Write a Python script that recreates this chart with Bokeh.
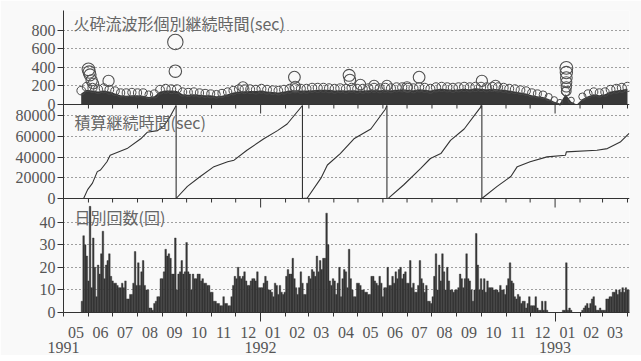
import math
import pandas as pd
from bokeh.plotting import figure
from bokeh.models import (Range1d, FixedTicker, DatetimeAxis, CustomJSTickFormatter,
                          Label, Span)
from bokeh.embed import file_html
from bokeh.resources import INLINE

# ---------------- data ----------------
axis_start = "1991-05-01"
axis_days = 703.5

# daily counts of pyroclastic flows (read in 2-day bins)
bin_days = 2
counts_a_start = "1991-05-23"
counts_a = [5, 34, 30, 25, 14, 47, 11, 33, 20, 7, 21, 17, 26, 36, 15, 21, 23, 26, 16, 14,
            13, 13, 12, 11, 11, 13, 11, 14, 6, 6, 8, 8, 13, 27, 12,
            22, 12, 18, 23, 12, 10, 10, 2, 2, 1, 4, 5, 7, 7, 15,
            15, 18, 28, 25, 26, 24, 17, 17, 33, 10, 17, 18, 23, 17, 18,
            31, 18, 17, 10, 17, 15, 15, 17, 17, 14, 15, 13, 13, 12, 12,
            9, 9, 5, 5, 4, 4, 3, 3, 7, 4, 4, 3, 3, 7, 12,
            16, 15, 20, 16, 15, 16, 18, 14, 12, 12, 14, 15, 15]
counts_b_start = "1991-12-25"
counts_b = [14, 18, 11, 11, 11, 13, 16, 14, 10, 10,
            9, 7, 13, 12, 8, 12, 9, 8, 9, 16,
            19, 17, 17, 24, 15, 11, 8, 11, 18, 13,
            8, 8, 13, 16, 15, 19, 18, 16, 25, 18,
            23, 19, 24, 24, 44, 30, 14, 12, 15, 14,
            8, 13, 20, 7, 15, 19, 18, 11, 28, 15,
            10, 7, 7, 13, 13, 12, 10, 10, 9, 9,
            8, 8, 16, 16, 14, 13, 12, 16, 13, 7,
            11, 11, 20, 12, 12, 16, 13, 18, 15, 19,
            20, 15, 17, 18, 13, 13, 23, 11, 13, 9,
            9, 12, 23, 15, 13, 9, 12, 5, 5, 4,
            7, 16, 26, 10, 21]
counts_c_start = "1992-08-11"
counts_c = [14, 26, 18, 10, 20, 14, 10, 10, 9, 10,
            10, 11, 17, 15, 11, 15, 26, 15, 14, 10,
            5, 10, 35, 21, 10, 15, 10, 15, 9, 14,
            11, 11, 11, 10, 10, 10, 9, 12, 10, 10,
            8, 12, 15, 22, 14, 13, 7, 6, 8, 7,
            4, 5, 5, 2, 4, 7, 3, 3, 3, 7,
            2, 1, 1, 5, 1, 5, 1, 0, 0, 0,
            0, 0, 0, 0, 0, 0, 1, 1, 22, 1,
            2, 1, 0, 0, 0, 0, 0, 0, 1, 2,
            3, 4, 2, 4, 6, 7, 3, 1, 1, 2,
            1, 1, 1, 6, 6, 7, 7, 9, 9, 10,
            8, 10, 9, 11, 9, 11, 10, 10]

# cumulative duration (sec), unwrapped; the panel wraps every 90000 sec
wrap_secs = 90000
cum_dates = ["1991-05-26", "1991-05-31", "1991-06-06", "1991-06-12", "1991-06-16", "1991-06-24",
             "1991-06-28", "1991-07-19", "1991-08-05", "1991-08-13", "1991-08-26", "1991-09-03",
             "1991-09-11", "1991-09-18", "1991-10-02", "1991-10-18", "1991-11-04", "1991-11-21",
             "1991-11-29", "1991-12-15", "1992-01-05", "1992-01-22", "1992-02-03", "1992-02-22",
             "1992-02-28", "1992-03-16", "1992-03-24", "1992-04-09", "1992-04-26", "1992-05-17",
             "1992-06-04", "1992-06-06", "1992-06-08", "1992-06-27", "1992-07-18", "1992-07-30",
             "1992-08-12", "1992-08-24", "1992-09-10", "1992-09-30", "1992-10-02", "1992-10-21",
             "1992-11-07", "1992-11-15", "1992-12-01", "1992-12-22", "1993-01-14", "1993-01-15",
             "1993-02-22", "1993-03-07", "1993-03-23", "1993-04-03"]
cum_secs = [0, 8600, 14900, 26000, 27600, 35600,
            41900, 48300, 57800, 64100, 65700, 70500,
            80000, 90000, 101700, 111300, 120800, 125600,
            127100, 136700, 147800, 155700, 162100, 180000,
            180500, 199700, 212400, 223500, 237800, 247300,
            266400, 270000, 270300, 283300, 299200, 308700,
            313500, 326200, 337300, 357900, 360000, 371700,
            381300, 390800, 395600, 400300, 401900, 405100,
            406700, 408300, 414600, 423000]

# individual durations: dense cloud (weekly read-off of its solid top and of the
# outer ring of circles) plus the individually visible long events
cloud_start = "1991-05-23"
cloud_step_days = 7
cloud_top = [120, 160, 150, 140, 150, 140, 120, 100, 95, 100,
             100, 95, 80, 90, 140, 150, 150, 145, 110, 105,
             110, 105, 100, 100, 90, 95, 110, 130, 140, 140,
             145, 145, 150, 140, 135, 130, 140, 150, 155, 150,
             150, 155, 160, 160, 160, 150, 155, 150, 155, 150,
             150, 155, 160, 155, 160, 155, 160, 165, 160, 155,
             165, 160, 150, 165, 170, 165, 160, 165, 170, 165,
             175, 170, 165, 170, 165, 160, 150, 140, 130, 120,
             100, 90, 80, 60, 30, 10, 110, 30, 0, 60,
             90, 110, 100, 110, 140, 150, 160, 170]
cloud_edge = [150, 190, 180, 165, 175, 160, 145, 125, 125, 130,
              125, 125, 105, 115, 160, 170, 165, 165, 135, 130,
              135, 125, 120, 115, 110, 120, 135, 150, 165, 165,
              165, 160, 170, 160, 155, 150, 160, 170, 175, 170,
              170, 180, 180, 180, 175, 170, 175, 170, 180, 170,
              170, 175, 180, 175, 180, 175, 185, 185, 180, 175,
              185, 180, 170, 185, 190, 185, 180, 185, 190, 185,
              190, 190, 185, 190, 185, 180, 170, 165, 155, 145,
              125, 115, 105, 80, 50, 25, 140, 45, 0, 85,
              115, 135, 125, 135, 160, 170, 180, 190]
big_dates = ["1991-06-01", "1991-06-02", "1991-06-03", "1991-06-05", "1991-06-07", "1991-06-26",
             "1991-09-17", "1991-09-17", "1991-12-10", "1992-02-12", "1992-02-13", "1992-04-20",
             "1992-04-21", "1992-05-04", "1992-05-21", "1992-06-06", "1992-07-01", "1992-07-16",
             "1992-10-02", "1992-10-19", "1993-01-15", "1993-01-15", "1993-01-15", "1993-01-15",
             "1993-01-15", "1993-01-15"]
big_secs = [380, 350, 320, 260, 225, 255,
            675, 360, 190, 295, 195, 315,
            265, 215, 205, 205, 190, 295,
            255, 205, 395, 345, 290, 240,
            190, 145]

top_ticks = [0, 200, 400, 600, 800]
mid_ticks_v = [0, 20000, 40000, 60000, 80000]
bot_ticks = [0, 10, 20, 30, 40]
month_tick_labels = ["05", "06", "07", "08", "09", "10", "11", "12", "01", "02", "03", "04",
                     "05", "06", "07", "08", "09", "10", "11", "12", "01", "02", "03"]
year_tick_dates = ["1991-05-01", "1992-01-01", "1993-01-01"]
year_tick_labels = ["1991", "1992", "1993"]

# ---------------- helpers / layout ----------------
DAY = 86400000.0


def ms(d):
    return pd.Timestamp(d).value / 1e6


def dia(v):
    return 3.5 + 0.42 * math.sqrt(max(v, 0))


FONT = "Liberation Sans Narrow"
TXT = "#555555"
INK = "#333333"
BG = "#f9f9f9"
CJK = "Noto Sans CJK JP"

FRAME_H = 302
# (pixel offset of panel's zero from frame bottom, panel height px, value at panel top)
PANELS = {"bot": (0, 112, 49.6), "mid": (114, 93, wrap_secs), "top": (208, 94, 1015)}


def px(name, v):
    off, h, vmax = PANELS[name]
    return off + v * h / vmax


X0 = ms(axis_start)
p = figure(frame_width=566, frame_height=FRAME_H, min_border_left=63, min_border_right=12,
           min_border_top=10, min_border_bottom=0,
           x_range=Range1d(X0, X0 + axis_days * DAY), y_range=Range1d(0, FRAME_H),
           x_axis_type="datetime", output_backend="svg", toolbar_location=None,
           background_fill_color=BG, border_fill_color=BG)
p.outline_line_color = None
p.xgrid.visible = False

for name, (off, h, vmax) in PANELS.items():
    upp = vmax / h
    p.extra_y_ranges[name] = Range1d(-off * upp, (FRAME_H - off) * upp)

# left axis: one axis line, three sets of ticks
tick_pos, tick_lab = [], []
for name, ticks in (("bot", bot_ticks), ("mid", mid_ticks_v), ("top", top_ticks)):
    for t in ticks:
        tick_pos.append(px(name, t))
        tick_lab.append(str(t))
fmt_code = "const i = tv.indexOf(tick); return i >= 0 ? lab[i] : '';"
ax = p.yaxis[0]
ax.ticker = FixedTicker(ticks=tick_pos)
ax.formatter = CustomJSTickFormatter(args=dict(tv=tick_pos, lab=tick_lab), code=fmt_code)
ax.major_tick_out = 6
ax.major_tick_in = 0
ax.minor_tick_line_color = None
ax.axis_line_color = INK
ax.major_tick_line_color = INK
ax.major_label_text_font = FONT
ax.major_label_text_font_size = "16px"
ax.major_label_text_color = TXT
ax.major_label_standoff = 2
g = p.ygrid[0]
g.ticker = FixedTicker(ticks=[tp for tp, lb in zip(tick_pos, tick_lab) if lb != "0"])
g.grid_line_dash = "1 3"
g.grid_line_color = "#444444"
g.grid_line_width = 1

# ---------------- top: individual durations ----------------
cx = [ms(cloud_start) + i * cloud_step_days * DAY for i in range(len(cloud_top))]
p.varea(x=cx, y1=[0] * len(cx), y2=cloud_top, fill_color="#383838", y_range_name="top")
ex = [x for x, v in zip(cx, cloud_edge) if v > 0]
ev = [v for v in cloud_edge if v > 0]
p.scatter(x=ex, y=ev, size=[dia(v) for v in ev], marker="circle", fill_alpha=0,
          line_color="#4a4a4a", line_width=1, y_range_name="top")
p.scatter(x=[ms(d) for d in big_dates], y=big_secs, size=[dia(v) + 1 for v in big_secs],
          marker="circle", fill_alpha=0, line_color="#505050", line_width=1.1,
          y_range_name="top")
p.add_layout(Label(x=X0, y=1015, x_offset=10, text="火砕流波形個別継続時間(sec)",
                   text_baseline="top", text_font=CJK, text_font_size="16px",
                   text_color="#666666", y_range_name="top"))

# ---------------- middle: cumulative duration ----------------
ct = [ms(d) for d in cum_dates]
W = wrap_secs
segs_x, segs_y = [[ct[0]]], [[cum_secs[0] % W]]
resets = []
for i in range(1, len(ct)):
    t0, t1 = ct[i - 1], ct[i]
    c0, c1 = cum_secs[i - 1], cum_secs[i]
    for k in range(int(c0 // W) + 1, int(c1 // W) + 1):
        b = k * W
        tb = t0 + (t1 - t0) * (b - c0) / (c1 - c0)
        segs_x[-1].append(tb)
        segs_y[-1].append(W)
        resets.append(tb)
        segs_x.append([tb])
        segs_y.append([0])
    segs_x[-1].append(t1)
    segs_y[-1].append(c1 - (c1 // W) * W)
p.multi_line(xs=segs_x, ys=segs_y, line_color=INK, line_width=1.1, y_range_name="mid")
p.segment(x0=resets, y0=[0] * len(resets), x1=resets, y1=[W] * len(resets),
          line_color=INK, line_width=1.1, y_range_name="mid")
p.add_layout(Label(x=X0, y=85200, x_offset=11, text="積算継続時間(sec)",
                   text_baseline="top", text_font=CJK, text_font_size="16px",
                   text_color="#666666", y_range_name="mid"))

# ---------------- bottom: daily counts ----------------
bx, bv = [], []
for start, vals in ((counts_a_start, counts_a), (counts_b_start, counts_b),
                    (counts_c_start, counts_c)):
    s = ms(start)
    for i, v in enumerate(vals):
        bx.append(s + (i * bin_days + bin_days / 2) * DAY)
        bv.append(v)
p.vbar(x=bx, top=bv, width=bin_days * DAY, fill_color="#363636",
       line_color="#363636", line_width=0.4, y_range_name="bot")
p.add_layout(Label(x=X0, y=47.4, x_offset=11, text="日別回数(回)",
                   text_baseline="top", text_font=CJK, text_font_size="16px",
                   text_color="#666666", y_range_name="bot"))

# zero lines of the two upper panels, with their month ticks
month_starts = list(pd.date_range("1991-05-01", "1993-04-01", freq="MS"))
ms_starts = [ms(d) for d in month_starts]
year_ticks = [ms(d) for d in year_tick_dates]
for name in ("mid", "top"):
    z = px(name, 0)
    p.add_layout(Span(location=z, dimension="width", line_color=INK, line_width=1))
    lens = [9 if (d.month == 1) else 4 for d in month_starts]
    p.segment(x0=ms_starts, y0=[z] * len(ms_starts), x1=ms_starts,
              y1=[z - L for L in lens], line_color=INK, line_width=1)

# ---------------- bottom time axes ----------------
mid_month = [(a + b) / 2 for a, b in zip(ms_starts[:-1], ms_starts[1:])]
xa = p.xaxis[0]
xa.ticker = FixedTicker(ticks=year_ticks[1:], minor_ticks=ms_starts)
xa.major_tick_out = 9
xa.major_tick_in = 0
xa.minor_tick_out = 4
xa.minor_tick_in = 0
xa.axis_line_color = INK
xa.major_tick_line_color = INK
xa.minor_tick_line_color = INK
xa.major_label_text_font_size = "0px"
xa.major_label_standoff = 0
xa.formatter = CustomJSTickFormatter(code="return '';")

month_axis = DatetimeAxis(
    ticker=FixedTicker(ticks=mid_month),
    formatter=CustomJSTickFormatter(args=dict(tv=mid_month, lab=month_tick_labels),
                                    code=fmt_code),
    axis_line_color=None, major_tick_line_color=None, minor_tick_line_color=None,
    major_label_standoff=-1, major_label_text_font=FONT, major_label_text_font_size="16px",
    major_label_text_color=TXT)
p.add_layout(month_axis, "below")
year_axis = DatetimeAxis(
    ticker=FixedTicker(ticks=year_ticks),
    formatter=CustomJSTickFormatter(args=dict(tv=year_ticks, lab=year_tick_labels),
                                    code=fmt_code),
    axis_line_color=None, major_tick_line_color=None, minor_tick_line_color=None,
    major_label_standoff=-5, major_label_text_font=FONT, major_label_text_font_size="16px",
    major_label_text_color=TXT)
p.add_layout(year_axis, "below")

open("out.html", "w").write(file_html(p, INLINE))
